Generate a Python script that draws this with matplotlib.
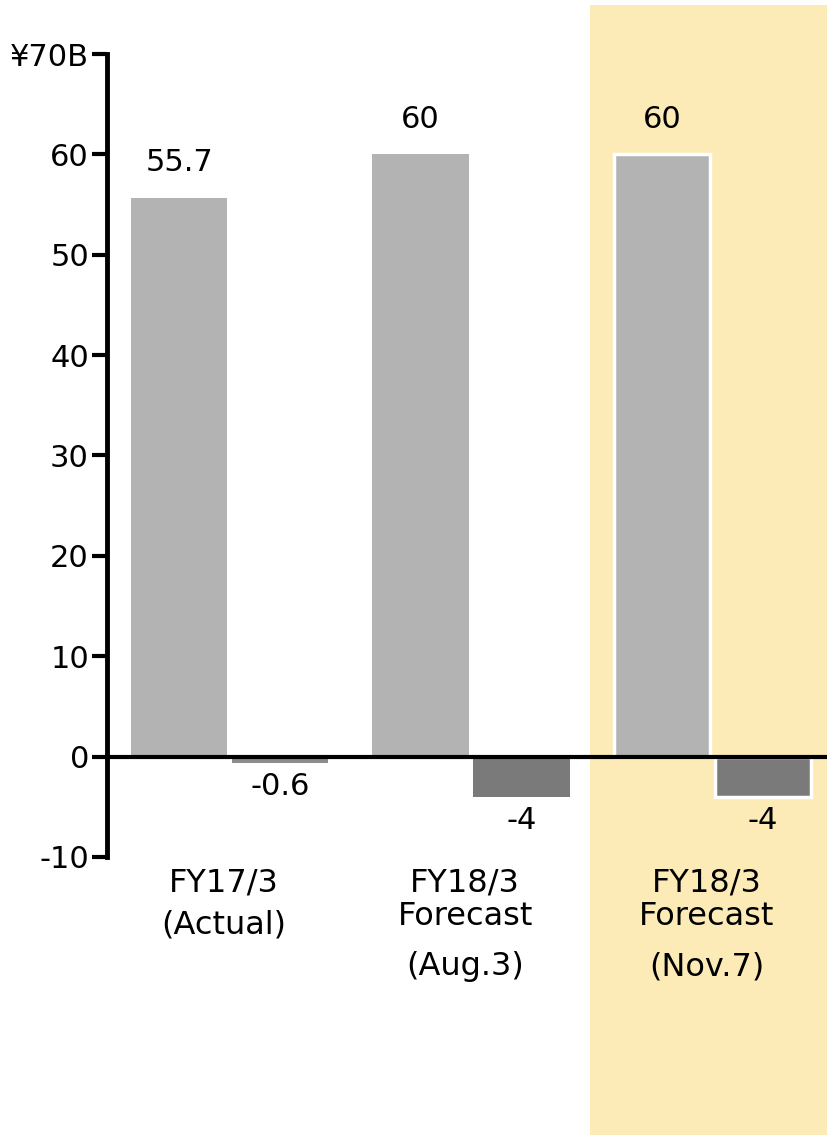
import numpy as np
import matplotlib
matplotlib.use("Agg")
import matplotlib.pyplot as plt
from matplotlib.patches import Rectangle

# data
cat_lines = [["FY17/3", "(Actual)"],
             ["FY18/3", "Forecast", "(Aug.3)"],
             ["FY18/3", "Forecast", "(Nov.7)"]]
light_vals = [55.7, 60, 60]
dark_vals = [-0.6, -4, -4]
light_labels = ["55.7", "60", "60"]
dark_labels = ["-0.6", "-4", "-4"]
yticks = [-10, 0, 10, 20, 30, 40, 50, 60, 70]
ytick_labels = ["-10", "0", "10", "20", "30", "40", "50", "60", "\u00a570B"]

plt.rcParams['font.family'] = ['DejaVu Sans']

W, H = 828, 1135
fig = plt.figure(figsize=(W / 100, H / 100), dpi=100)

# highlight band behind the last group
fig.patches.append(Rectangle((590 / W, 0), (W - 590) / W, (H - 5) / H,
                             transform=fig.transFigure, facecolor="#fcebb6",
                             edgecolor="none", zorder=-1))

ax = fig.add_axes([107 / W, (H - 857) / H, (W - 107) / W, (857 - 54) / H])
ax.patch.set_alpha(0)

x = np.arange(len(light_vals))
bw = 0.40
off = 0.209
edge = ["none", "none", "white"]
for i in range(len(x)):
    ax.bar(x[i] - off, light_vals[i], bw, color="#b3b3b3",
           edgecolor=edge[i], linewidth=2.5, zorder=2)
    ax.bar(x[i] + off, dark_vals[i], bw, color="#7a7a7a" if i else "#8c8c8c",
           edgecolor=edge[i], linewidth=2.5, zorder=2)
    ax.text(x[i] - off, light_vals[i] + 3.5, light_labels[i], ha="center",
            va="center", fontsize=22)
    ax.text(x[i] + off, min(dark_vals[i], -0.3) - 2.4, dark_labels[i],
            ha="center", va="center", fontsize=22)

ax.axhline(0, color="black", lw=3, zorder=3)

ax.set_xlim(-0.508, 2.478)
ax.set_ylim(-10, 70)
ax.set_yticks(yticks)
ax.set_yticklabels(ytick_labels, fontsize=22)
ax.tick_params(axis="y", length=11, width=3, pad=2)
ax.set_xticks([])
for s in ["top", "right", "bottom"]:
    ax.spines[s].set_visible(False)
ax.spines["left"].set_linewidth(3.5)

# category labels under the axis
px = 10.04
line_y = [[883, 925], [883, 917, 967], [883, 917, 967]]
for i, lines in enumerate(cat_lines):
    for t, yp in zip(lines, line_y[i]):
        ax.text(x[i] - 0.025, -(yp - 757) / px, t, ha="center", va="center",
                fontsize=23, clip_on=False)

fig.savefig("out.png", dpi=100)
